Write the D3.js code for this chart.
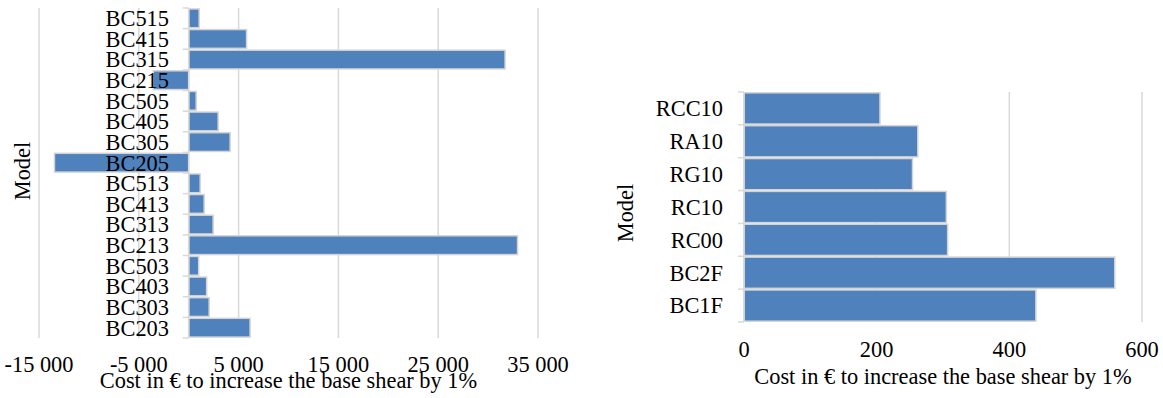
<!DOCTYPE html>
<html>
<head>
<meta charset="utf-8">
<script src="https://cdn.jsdelivr.net/npm/d3@7"></script>
<style>
  html, body { margin: 0; padding: 0; background: #ffffff; }
  svg { display: block; }
  text { font-family: "Liberation Serif", "Times New Roman", serif; fill: #000; }
</style>
</head>
<body>
<svg id="chart" width="1163" height="398"></svg>
<script>
// Left panel: building-code models
const leftModels = ["BC515", "BC415", "BC315", "BC215", "BC505", "BC405", "BC305", "BC205",
                    "BC513", "BC413", "BC313", "BC213", "BC503", "BC403", "BC303", "BC203"];
const leftCost = [1050, 5800, 31700, -3550, 750, 2950, 4150, -13450,
                  1150, 1550, 2450, 32950, 1000, 1800, 2050, 6150];
const leftTicks = [-15000, -5000, 5000, 15000, 25000, 35000];

// Right panel: retrofit models
const rightModels = ["RCC10", "RA10", "RG10", "RC10", "RC00", "BC2F", "BC1F"];
const rightCost = [205, 262, 254, 305, 307, 559, 440];
const rightTicks = [0, 200, 400, 600];

const xTitle = "Cost in \u20AC to increase the base shear by 1%";
const yTitle = "Model";

const barFill = "#4f81bd";
const barStroke = "#d4d4d4";
const gridColor = "#d9d9d9";
const fontSize = 22.4;

const svg = d3.select("#chart");
// thousands separated by a space, plain hyphen for negatives
const fmt = v => d3.format(",")(v).replace(/,/g, " ").replace("\u2212", "-");

function panel(cfg) {
  const g = svg.append("g");
  const x = d3.scaleLinear().domain(cfg.domain).range([cfg.left, cfg.right]);
  const y = d3.scaleBand().domain(cfg.cats).range([cfg.top, cfg.bottom]).paddingInner(cfg.pad).paddingOuter(cfg.pad / 2);
  const yb = d3.scaleBand().domain(cfg.cats).range([cfg.top, cfg.bottom]);

  // vertical gridlines
  g.append("g").selectAll("line").data(cfg.ticks.filter(t => t !== 0)).join("line")
    .attr("x1", d => x(d)).attr("x2", d => x(d))
    .attr("y1", cfg.top).attr("y2", cfg.bottom)
    .attr("stroke", gridColor).attr("stroke-width", 1.5);

  // bars
  g.append("g").selectAll("rect").data(cfg.cats).join("rect")
    .attr("x", (d, i) => x(Math.min(0, cfg.values[i])))
    .attr("width", (d, i) => Math.abs(x(cfg.values[i]) - x(0)))
    .attr("y", d => y(d))
    .attr("height", y.bandwidth())
    .attr("fill", barFill)
    .attr("stroke", barStroke)
    .attr("stroke-width", 1.5);

  // category axis at zero with outward ticks on band boundaries
  const ax = g.append("g");
  ax.append("line")
    .attr("x1", x(0)).attr("x2", x(0))
    .attr("y1", cfg.top).attr("y2", cfg.bottom)
    .attr("stroke", gridColor).attr("stroke-width", 1.5);
  const bounds = cfg.cats.map(c => yb(c)).concat([cfg.bottom]);
  ax.selectAll("line.tk").data(bounds).join("line").attr("class", "tk")
    .attr("x1", x(0) - 6).attr("x2", x(0))
    .attr("y1", d => d).attr("y2", d => d)
    .attr("stroke", gridColor).attr("stroke-width", 1.5);

  // category labels (drawn above the bars)
  g.append("g").selectAll("text").data(cfg.cats).join("text")
    .attr("x", cfg.labelX)
    .attr("y", d => yb(d) + yb.bandwidth() / 2)
    .attr("dy", "0.35em")
    .attr("text-anchor", "end")
    .attr("font-size", fontSize)
    .text(d => d);

  // value tick labels
  g.append("g").selectAll("text").data(cfg.ticks).join("text")
    .attr("x", d => x(d))
    .attr("y", cfg.tickY)
    .attr("text-anchor", "middle")
    .attr("font-size", fontSize)
    .text(d => fmt(d));

  // axis titles
  g.append("text")
    .attr("x", (cfg.left + cfg.right) / 2)
    .attr("y", cfg.titleY)
    .attr("text-anchor", "middle")
    .attr("font-size", fontSize)
    .text(xTitle);

  g.append("text")
    .attr("transform", `translate(${cfg.modelX},${cfg.modelY}) rotate(-90)`)
    .attr("text-anchor", "middle")
    .attr("font-size", fontSize)
    .text(yTitle);
}

panel({
  cats: leftModels, values: leftCost, ticks: leftTicks,
  domain: [-15000, 35000], left: 39, right: 538,
  top: 8, bottom: 338, pad: 0.09,
  labelX: 169, tickY: 372, titleY: 388,
  modelX: 30, modelY: 171
});

panel({
  cats: rightModels, values: rightCost, ticks: rightTicks,
  domain: [0, 600], left: 744, right: 1142,
  top: 92, bottom: 322, pad: 0.05,
  labelX: 723, tickY: 357, titleY: 384,
  modelX: 633, modelY: 213
});
</script>
</body>
</html>
